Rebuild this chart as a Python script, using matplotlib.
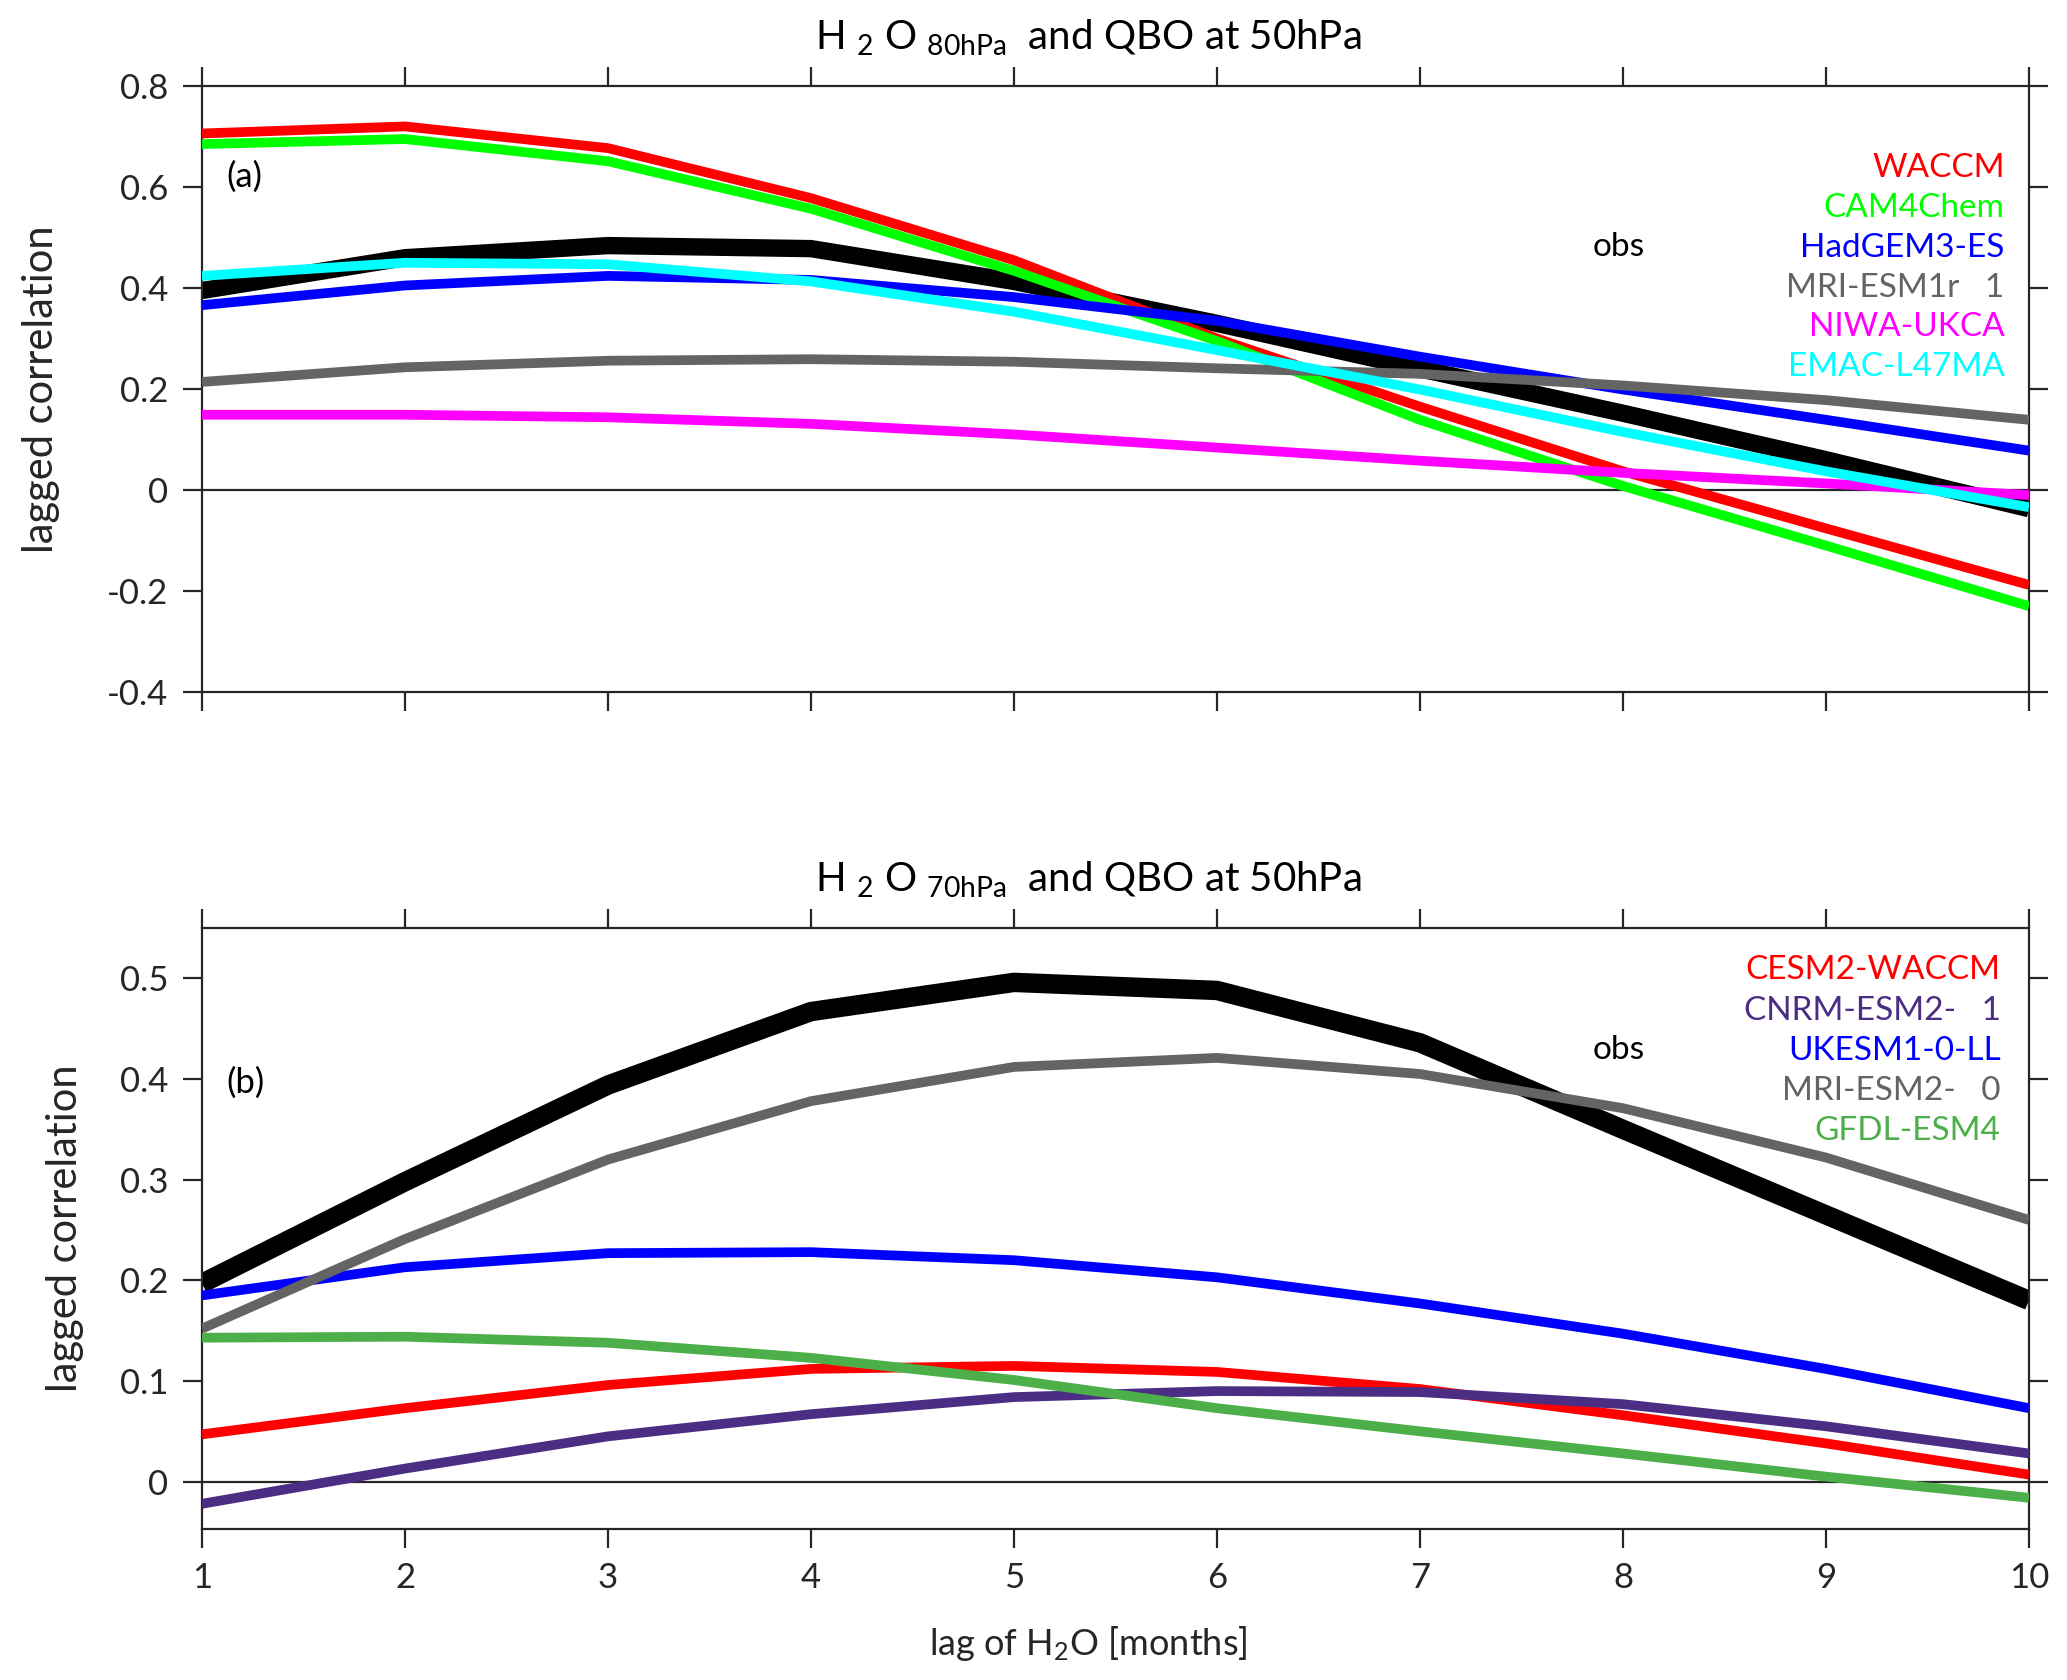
import numpy as np
import matplotlib
matplotlib.use("Agg")
import matplotlib.pyplot as plt

plt.rcParams['font.family'] = ['Lato', 'DejaVu Sans']
plt.rcParams['mathtext.fontset'] = 'custom'
plt.rcParams['mathtext.rm'] = 'Lato'
plt.rcParams['mathtext.it'] = 'Lato:italic'
plt.rcParams['mathtext.bf'] = 'Lato:bold'

lags = np.arange(1, 11)

# panel (a): H2O at 80hPa vs QBO at 50hPa
obs_a = [0.395, 0.46, 0.484, 0.478, 0.413, 0.33, 0.24, 0.152, 0.06, -0.037]
names_a = ['WACCM', 'CAM4Chem', 'HadGEM3-ES', 'MRI-ESM1r   1', 'NIWA-UKCA', 'EMAC-L47MA']
colors_a = ['#ff0000', '#00ff00', '#0000ff', '#646464', '#ff00ff', '#00ffff']
models_a = [
    [0.706, 0.72, 0.677, 0.578, 0.455, 0.30, 0.165, 0.037, -0.076, -0.188],
    [0.685, 0.695, 0.651, 0.557, 0.434, 0.295, 0.139, 0.008, -0.11, -0.23],
    [0.366, 0.405, 0.424, 0.416, 0.382, 0.335, 0.264, 0.199, 0.139, 0.078],
    [0.214, 0.243, 0.256, 0.259, 0.254, 0.241, 0.23, 0.207, 0.178, 0.139],
    [0.149, 0.149, 0.144, 0.131, 0.11, 0.084, 0.058, 0.034, 0.013, -0.01],
    [0.424, 0.45, 0.447, 0.413, 0.353, 0.277, 0.199, 0.115, 0.037, -0.034],
]

# panel (b): H2O at 70hPa vs QBO at 50hPa
obs_b = [0.197, 0.298, 0.394, 0.467, 0.496, 0.488, 0.436, 0.35, 0.265, 0.18]
names_b = ['CESM2-WACCM', 'CNRM-ESM2-   1', 'UKESM1-0-LL', 'MRI-ESM2-   0', 'GFDL-ESM4']
colors_b = ['#ff0000', '#4b2e83', '#0000ff', '#646464', '#4daf4a']
models_b = [
    [0.047, 0.073, 0.096, 0.112, 0.115, 0.109, 0.092, 0.066, 0.038, 0.007],
    [-0.022, 0.013, 0.045, 0.067, 0.084, 0.09, 0.089, 0.077, 0.055, 0.028],
    [0.185, 0.213, 0.227, 0.228, 0.22, 0.203, 0.177, 0.147, 0.112, 0.073],
    [0.152, 0.241, 0.32, 0.378, 0.412, 0.421, 0.405, 0.371, 0.322, 0.26],
    [0.143, 0.144, 0.138, 0.123, 0.101, 0.073, 0.05, 0.028, 0.005, -0.016],
]

axcol = '#262626'
fig = plt.figure(figsize=(20.67, 16.8), dpi=100)
ax1 = fig.add_axes([0.0977, 0.5881, 0.8839, 0.3607])
ax2 = fig.add_axes([0.0977, 0.0899, 0.8839, 0.3577])


def fmt(v):
    if abs(v) < 1e-9:
        return '0'
    return '%.1f' % v


def style_axes(ax, ylim, yticks, ylabelpad):
    ax.axhline(0, color=axcol, lw=1.6, zorder=1)
    ax.set_xlim(1, 10)
    ax.set_ylim(*ylim)
    ax.set_xticks(lags)
    ax.set_yticks(yticks)
    ax.set_yticklabels([fmt(v) for v in yticks])
    ax.tick_params(direction='out', length=14, width=1.6, color=axcol,
                   labelcolor=axcol, labelsize=25, top=True, right=True, pad=10)
    for s in ax.spines.values():
        s.set_color(axcol)
        s.set_linewidth(1.6)
    ax.set_ylabel('lagged correlation', fontsize=30, color=axcol, labelpad=ylabelpad)


# top panel
ax1.plot(lags, obs_a, color='k', lw=12.5, solid_capstyle='butt', zorder=2)
for vals, c in zip(models_a, colors_a):
    ax1.plot(lags, vals, color=c, lw=7, solid_capstyle='butt', zorder=3)
style_axes(ax1, (-0.4, 0.8), np.arange(-0.4, 0.81, 0.2), 34)
ax1.tick_params(labelbottom=False)
ax1.set_title(r'H $_2$ O $_{\mathrm{80hPa}}$  and QBO at 50hPa', fontsize=29,
              color='k', pad=26, x=0.485)
ax1.text(1.12, 0.62, '(a)', fontsize=25, color='k', va='center')
ax1.text(7.98, 0.481, 'obs', fontsize=24, color='k', ha='center', va='center')
for i, (n, c) in enumerate(zip(names_a, colors_a)):
    ax1.text(9.88, 0.638 - i * 0.079, n, fontsize=24, color=c, ha='right', va='center')

# bottom panel
ax2.plot(lags, obs_b, color='k', lw=14, solid_capstyle='butt', zorder=2)
for vals, c in zip(models_b, colors_b):
    ax2.plot(lags, vals, color=c, lw=7, solid_capstyle='butt', zorder=3)
style_axes(ax2, (-0.047, 0.55), np.arange(0, 0.51, 0.1), 26)
ax2.set_title(r'H $_2$ O $_{\mathrm{70hPa}}$  and QBO at 50hPa', fontsize=29,
              color='k', pad=26, x=0.485)
ax2.set_xlabel(r'lag of H$_2$O [months]', fontsize=26, color=axcol)
ax2.xaxis.set_label_coords(0.485, -0.19)
ax2.xaxis.get_label().set_va('center')
ax2.text(1.12, 0.396, '(b)', fontsize=25, color='k', va='center')
ax2.text(7.98, 0.429, 'obs', fontsize=24, color='k', ha='center', va='center')
for i, (n, c) in enumerate(zip(names_b, colors_b)):
    ax2.text(9.86, 0.508 - i * 0.04, n, fontsize=24, color=c, ha='right', va='center')

fig.savefig('out.png', dpi=100)
